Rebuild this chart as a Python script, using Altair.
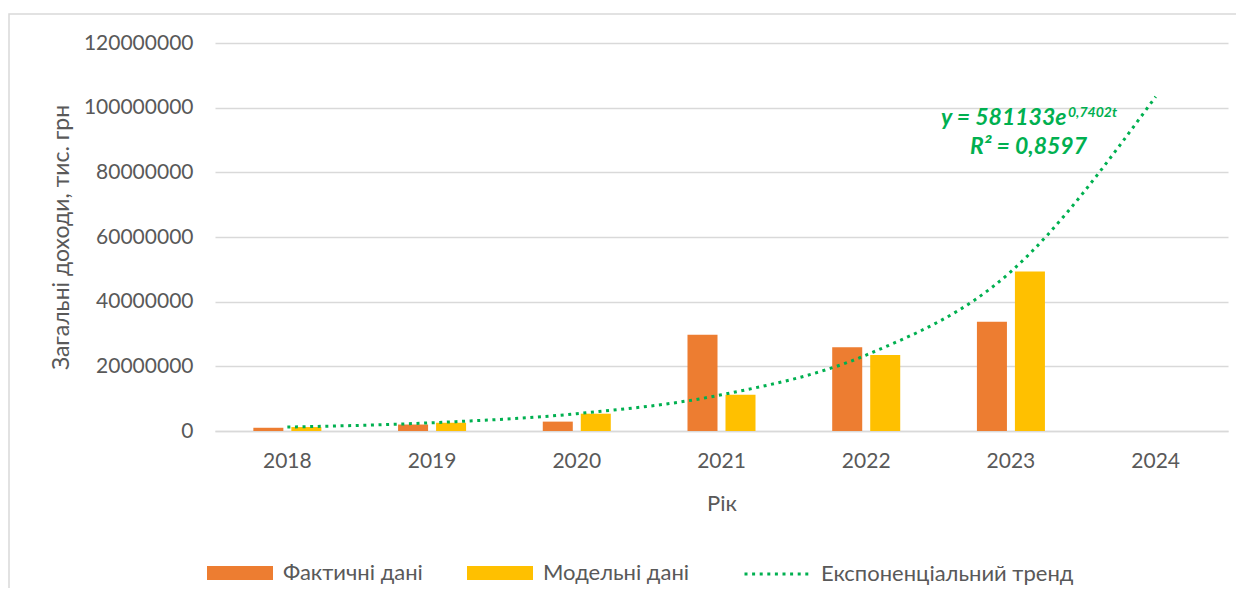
import altair as alt
import pandas as pd

years = ["2018", "2019", "2020", "2021", "2022", "2023", "2024"]
bar_years = ["2018", "2019", "2020", "2021", "2022", "2023"]
actual = [1000000, 2000000, 2900000, 29800000, 25900000, 33800000]
model = [1220000, 2550000, 5350000, 11200000, 23500000, 49300000]
trend = [1220000, 2550000, 5350000, 11200000, 23500000, 49300000, 103400000]
series_names = ["Фактичні дані", "Модельні дані"]
trend_name = "Експоненціальний тренд"
y_ticks = [0, 20000000, 40000000, 60000000, 80000000, 100000000, 120000000]
eq_main = "y = 581133e"
eq_sup = "0,7402t"
eq_r2 = "R² = 0,8597"

rows = []
for yr, a, m in zip(bar_years, actual, model):
    rows.append({"year": yr, "series": series_names[0], "value": a})
    rows.append({"year": yr, "series": series_names[1], "value": m})
bars_df = pd.DataFrame(rows)
trend_df = pd.DataFrame({"year": years, "trend": trend, "name": trend_name})
one = pd.DataFrame({"k": [0]})

FONT = "Lato"
GRAY = "#595959"
GREEN = "#00B050"

x_scale = alt.Scale(domain=years, paddingInner=0.53, paddingOuter=0.265)
y_scale = alt.Scale(domain=[0, 120000000])

bars = alt.Chart(bars_df).mark_bar().encode(
    x=alt.X("year:O", scale=x_scale, sort=years,
            axis=alt.Axis(title="Рік", labelAngle=0, domainColor="#D9D9D9", domainWidth=1.5,
                          ticks=False, labelPadding=19, titlePadding=22,
                          labelFontSize=21, titleFontSize=22)),
    xOffset=alt.XOffset("series:N", sort=series_names,
                        scale=alt.Scale(domain=series_names, paddingInner=0.21, paddingOuter=0)),
    y=alt.Y("value:Q", scale=y_scale,
            axis=alt.Axis(title="Загальні доходи, тис. грн", values=y_ticks, format="d",
                          domain=False, ticks=False, labelPadding=22, titlePadding=10,
                          gridColor="#D9D9D9", gridWidth=1.5,
                          labelFontSize=21, titleFontSize=23)),
    fill=alt.Fill("series:N", sort=series_names,
                  scale=alt.Scale(domain=series_names, range=["#ED7D31", "#FFC000"]),
                  legend=alt.Legend(title=None, orient="none", direction="horizontal",
                                    legendX=-8, legendY=497,
                                    symbolType="M-1,-0.21H1V0.21H-1Z", symbolSize=4356,
                                    symbolStrokeWidth=0, labelOffset=10, columnPadding=44,
                                    labelFontSize=22, labelColor=GRAY, labelFont=FONT,
                                    labelLimit=0)),
)

line = alt.Chart(trend_df).mark_line(strokeWidth=3, strokeDash=[3, 4.6], interpolate="monotone").encode(
    x=alt.X("year:O", scale=x_scale, sort=years),
    y=alt.Y("trend:Q", scale=y_scale),
    stroke=alt.Stroke("name:N", scale=alt.Scale(domain=[trend_name], range=[GREEN]),
                      legend=alt.Legend(title=None, orient="none", direction="horizontal",
                                        legendX=528, legendY=497,
                                        symbolType="stroke", symbolSize=4225,
                                        symbolStrokeWidth=3, symbolDash=[3, 4.6],
                                        labelOffset=10, labelFontSize=22, labelLimit=0,
                                        labelColor=GRAY, labelFont=FONT)),
)

t_main = alt.Chart(one).mark_text(text=eq_main, font=FONT, fontSize=23, fontWeight="bold",
                                  fontStyle="italic", color=GREEN, align="left",
                                  baseline="alphabetic").encode(
    x=alt.value(726), y=alt.value(82))
t_sup = alt.Chart(one).mark_text(text=eq_sup, font=FONT, fontSize=14, fontWeight="bold",
                                 fontStyle="italic", color=GREEN, align="left",
                                 baseline="alphabetic").encode(
    x=alt.value(853), y=alt.value(74))
t_r2 = alt.Chart(one).mark_text(text=eq_r2, font=FONT, fontSize=23, fontWeight="bold",
                                fontStyle="italic", color=GREEN, align="left",
                                baseline="alphabetic").encode(
    x=alt.value(755), y=alt.value(111))

border = alt.Chart(one).mark_rect(fill="transparent", stroke="#D9D9D9", strokeWidth=1.5).encode(
    x=alt.value(-206), x2=alt.value(1200), y=alt.value(-29), y2=alt.value(800))

chart = alt.layer(border, bars, line, t_main, t_sup, t_r2).properties(
    width=1013, height=388,
    autosize=alt.AutoSizeParams(type="none"),
    padding={"left": 207, "top": 35, "right": 8, "bottom": 157},
).configure_view(stroke=None).configure_axis(
    labelColor=GRAY, titleColor=GRAY, labelFont=FONT, titleFont=FONT, titleFontWeight="normal"
).resolve_scale(x="shared", y="shared")

chart.save("out.html", embed_options={"renderer": "svg", "actions": False})
